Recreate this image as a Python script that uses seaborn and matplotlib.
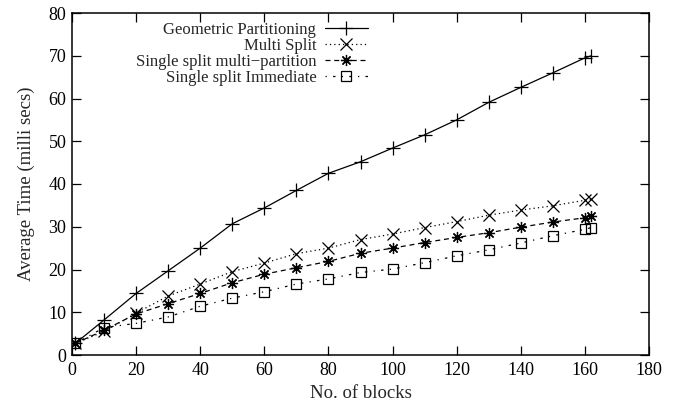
import matplotlib
matplotlib.use("Agg")
import matplotlib.pyplot as plt
import seaborn as sns
import pandas as pd

blocks = [1, 10, 20, 30, 40, 50, 60, 70, 80, 90, 100, 110, 120, 130, 140, 150, 160, 162]
geometric = [2.7, 8.2, 14.4, 19.7, 25.0, 30.7, 34.4, 38.5, 42.5, 45.2, 48.4, 51.5, 55.0, 59.1, 62.6, 66.0, 69.5, 70.0]
multi_split = [2.7, 5.5, 9.8, 13.8, 16.6, 19.5, 21.5, 23.7, 25.0, 27.0, 28.3, 29.8, 31.2, 32.7, 33.9, 34.9, 36.2, 36.5]
single_multi = [2.7, 5.8, 9.6, 12.0, 14.4, 16.9, 18.9, 20.4, 21.9, 23.8, 25.0, 26.3, 27.5, 28.6, 29.9, 31.1, 32.1, 32.4]
single_immediate = [2.7, 6.4, 7.4, 8.9, 11.4, 13.3, 14.8, 16.6, 17.8, 19.3, 20.1, 21.6, 23.2, 24.6, 26.2, 27.9, 29.4, 29.8]

labels = ["Geometric Partitioning", "Multi Split",
          "Single split multi\u2212partition", "Single split Immediate"]
x_ticks = [0, 20, 40, 60, 80, 100, 120, 140, 160, 180]
y_ticks = [0, 10, 20, 30, 40, 50, 60, 70, 80]

sns.set_style("ticks")
plt.rcParams["font.family"] = ["Liberation Serif", "DejaVu Serif"]

fig = plt.figure(figsize=(6.81, 4.05), dpi=100)
ax = fig.add_axes([72 / 681, 50 / 405, 577 / 681, 342 / 405])

series = [geometric, multi_split, single_multi, single_immediate]
markers = ["+", "x", (8, 2, 0), "s"]
msizes = [10, 8, 8, 7]
dashes = ["-", (0, (1, 2.5)), (0, (4, 3)), (0, (1, 5, 2, 5))]

for vals, lab, mk, ms, ls in zip(series, labels, markers, msizes, dashes):
    df = pd.DataFrame({"blocks": blocks, "time": vals})
    sns.lineplot(data=df, x="blocks", y="time", ax=ax, color="black",
                 linewidth=0.9, linestyle=ls, marker=mk, markersize=ms,
                 markerfacecolor="none", markeredgecolor="black",
                 markeredgewidth=0.9, label=lab)

ax.set_xlim(0, 180)
ax.set_ylim(0, 80)
ax.set_xticks(x_ticks)
ax.set_yticks(y_ticks)
ax.tick_params(direction="in", length=6.5, width=0.9, top=True, right=True,
               labelsize=13, pad=4, colors="black")
ax.tick_params(axis="x", pad=5)
for sp in ax.spines.values():
    sp.set_linewidth(1.1)
    sp.set_color("black")
    sp.set_visible(True)

ax.set_xlabel("No. of blocks", fontsize=13.5, labelpad=4)
ax.set_ylabel("Average Time (milli secs)", fontsize=13.5, labelpad=10)

leg = ax.legend(loc="upper right", bbox_to_anchor=(0.513, 0.975), frameon=False,
                markerfirst=False, fontsize=12, labelspacing=0.0,
                handlelength=2.6, handletextpad=0.5, borderpad=0.0,
                borderaxespad=0.0)

fig.savefig("out.png", dpi=100)
